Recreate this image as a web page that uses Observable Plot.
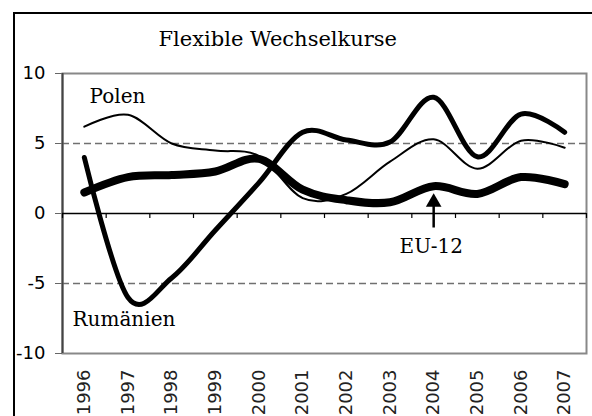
<!DOCTYPE html>
<html><head><meta charset="utf-8">
<script src="https://cdn.jsdelivr.net/npm/d3@7"></script>
<script src="https://cdn.jsdelivr.net/npm/@observablehq/plot@0.6"></script>
<style>
body{margin:0;background:#fff}
#wrap{position:relative;width:592px;height:416px;overflow:hidden;background:#fff}
#border{position:absolute;left:13px;top:12px;width:620px;height:440px;border-left:2px solid #000;border-top:2px solid #000;pointer-events:none}
</style></head><body><div id="wrap"><div id="border"></div></div>
<script>
const years = [1996,1997,1998,1999,2000,2001,2002,2003,2004,2005,2006,2007];
const polen = [6.2,7.05,5.0,4.5,4.1,1.1,1.4,3.7,5.3,3.2,5.2,4.7];
const rumaenien = [4.0,-6.0,-4.6,-1.2,2.2,5.8,5.25,5.1,8.3,4.05,7.1,5.8];
const eu12 = [1.5,2.6,2.75,3.0,3.9,1.7,0.95,0.8,1.95,1.4,2.6,2.1];
const yTicks = [-10,-5,0,5,10];
const gridValues = [-5,5];
const titleText = "Flexible Wechselkurse";
const seriesLabels = [
  {text:"Polen", x:1996.12, y:7.89},
  {text:"Rumänien", x:1995.73, y:-8.07},
  {text:"EU-12", x:2003.22, y:-2.79}
];
const arrowX = 2004;
const arrowFrom = -1.0, arrowTo = 0.55, arrowHead = 0.8;

const bounds = d3.range(years[0]-0.5, years[years.length-1]+1, 1);
const toRows = vals => years.map((yr,i)=>({year:yr, value:vals[i]}));

const chart = Plot.plot({
  width:592, height:416,
  marginLeft:62, marginRight:6, marginTop:73, marginBottom:63,
  style:{fontFamily:"DejaVu Sans", fontSize:"18px", color:"#000", background:"transparent", overflow:"visible"},
  x:{domain:[years[0]-0.5, years[years.length-1]+0.5]},
  y:{domain:[-10,10]},
  marks:[
    Plot.ruleY(gridValues,{stroke:"#707070", strokeWidth:1.3, strokeDasharray:"7,4"}),
    Plot.frame({stroke:"#888", strokeWidth:2}),
    Plot.ruleX([years[0]-0.5],{stroke:"#444", strokeWidth:2}),
    Plot.ruleY([0],{stroke:"#000", strokeWidth:1.5}),
    Plot.ruleX(bounds,{x:d=>d, y1:0, y2:-5*20/280, stroke:"#000", strokeWidth:1.2}),
    Plot.axisY({ticks:yTicks, tickFormat:d=>String(d), tickSize:7, tickPadding:10, stroke:"#666", fill:"#000", fontSize:18, label:null}),
    Plot.axisX({ticks:years, tickFormat:d=>String(d), tickSize:0, tickPadding:16, tickRotate:-90, fill:"#222", fontSize:18, label:null}),
    Plot.line(toRows(polen),{x:"year", y:"value", stroke:"#000", strokeWidth:2, curve:"cardinal", tension:0, strokeLinecap:"round"}),
    Plot.line(toRows(rumaenien),{x:"year", y:"value", stroke:"#000", strokeWidth:5, curve:"cardinal", tension:0, strokeLinecap:"round"}),
    Plot.line(toRows(eu12),{x:"year", y:"value", stroke:"#000", strokeWidth:8, curve:"cardinal", tension:0, strokeLinecap:"round"}),
    Plot.link([0],{x1:()=>arrowX, x2:()=>arrowX, y1:()=>arrowFrom, y2:()=>arrowTo, stroke:"#000", strokeWidth:2.5}),
    Plot.dot([0],{x:()=>arrowX, y:()=>arrowHead, symbol:"triangle", r:5.8, fill:"#000", stroke:"none"}),
    Plot.text(seriesLabels,{x:"x", y:"y", text:"text", textAnchor:"start", lineAnchor:"bottom", fontFamily:"DejaVu Serif", fontSize:20, fill:"#000"}),
    Plot.text([titleText],{x:()=>2000.43, y:()=>11.93, text:d=>d, textAnchor:"middle", lineAnchor:"bottom", fontFamily:"DejaVu Serif", fontSize:21, fill:"#000"})
  ]
});
document.getElementById("wrap").prepend(chart);
</script></body></html>
